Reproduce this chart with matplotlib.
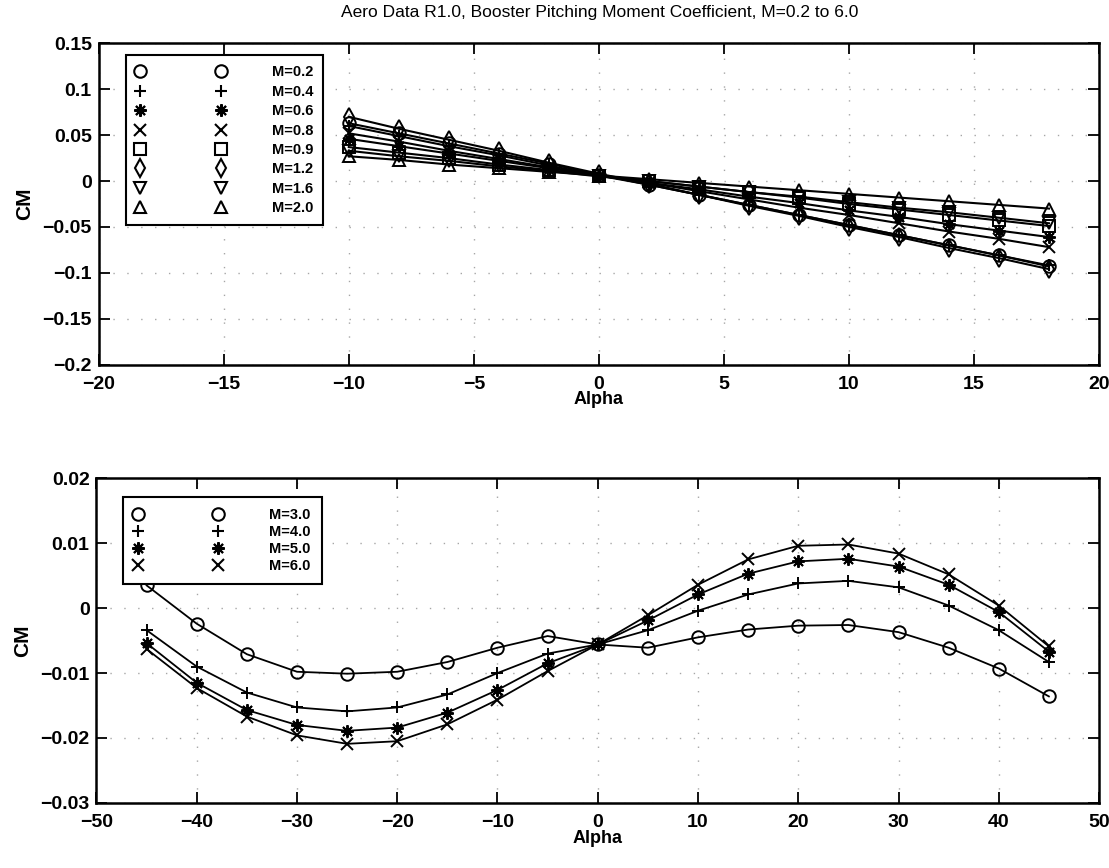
import numpy as np
import matplotlib.pyplot as plt
from matplotlib.lines import Line2D
from matplotlib.ticker import FuncFormatter

plt.rcParams['font.family'] = ['Liberation Sans', 'DejaVu Sans']

# Subsonic / low supersonic range, alpha in deg
alpha_low = [-10, -8, -6, -4, -2, 0, 2, 4, 6, 8, 10, 12, 14, 16, 18]
labels_low = ['M=0.2', 'M=0.4', 'M=0.6', 'M=0.8', 'M=0.9', 'M=1.2', 'M=1.6', 'M=2.0']
cm_m02 = [0.063, 0.052, 0.041, 0.030, 0.019, 0.007, -0.004, -0.015, -0.026, -0.037, -0.048, -0.059, -0.070, -0.081, -0.093]
cm_m04 = [0.060, 0.049, 0.038, 0.028, 0.017, 0.006, -0.004, -0.015, -0.026, -0.037, -0.048, -0.059, -0.070, -0.081, -0.092]
cm_m06 = [0.046, 0.038, 0.030, 0.022, 0.014, 0.006, -0.002, -0.009, -0.017, -0.024, -0.032, -0.039, -0.047, -0.054, -0.061]
cm_m08 = [0.052, 0.043, 0.033, 0.024, 0.015, 0.006, -0.002, -0.011, -0.020, -0.029, -0.037, -0.046, -0.055, -0.063, -0.072]
cm_m09 = [0.037, 0.031, 0.025, 0.018, 0.012, 0.006, 0.000, -0.006, -0.012, -0.018, -0.025, -0.031, -0.037, -0.043, -0.049]
cm_m12 = [0.070, 0.057, 0.045, 0.033, 0.020, 0.008, -0.003, -0.015, -0.027, -0.038, -0.050, -0.061, -0.073, -0.084, -0.096]
cm_m16 = [0.033, 0.027, 0.022, 0.016, 0.011, 0.005, 0.000, -0.006, -0.012, -0.017, -0.023, -0.029, -0.034, -0.040, -0.046]
cm_m20 = [0.027, 0.023, 0.018, 0.014, 0.010, 0.006, 0.002, -0.002, -0.006, -0.010, -0.014, -0.018, -0.022, -0.026, -0.030]

# High supersonic range
alpha_high = [-45, -40, -35, -30, -25, -20, -15, -10, -5, 0, 5, 10, 15, 20, 25, 30, 35, 40, 45]
labels_high = ['M=3.0', 'M=4.0', 'M=5.0', 'M=6.0']
cm_m30 = [0.0035, -0.0024, -0.0071, -0.0098, -0.0101, -0.0098, -0.0083, -0.0061, -0.0043, -0.0056,
          -0.0061, -0.0045, -0.0033, -0.0027, -0.0026, -0.0037, -0.0061, -0.0093, -0.0136]
cm_m40 = [-0.0034, -0.0090, -0.0130, -0.0153, -0.0159, -0.0153, -0.0133, -0.0100, -0.0070, -0.0056,
          -0.0034, -0.0004, 0.0021, 0.0038, 0.0042, 0.0032, 0.0004, -0.0034, -0.0083]
cm_m50 = [-0.0054, -0.0115, -0.0157, -0.0180, -0.0189, -0.0184, -0.0161, -0.0126, -0.0085, -0.0056,
          -0.0019, 0.0021, 0.0053, 0.0072, 0.0076, 0.0064, 0.0036, -0.0006, -0.0067]
cm_m60 = [-0.0063, -0.0123, -0.0167, -0.0196, -0.0209, -0.0205, -0.0179, -0.0141, -0.0097, -0.0056,
          -0.0011, 0.0036, 0.0075, 0.0096, 0.0098, 0.0084, 0.0052, 0.0004, -0.0059]

ASTERISK = (8, 2, 0)
markers_low = ['o', '+', ASTERISK, 'x', 's', 'd', 'v', '^']
markers_high = ['o', '+', ASTERISK, 'x']


def fmt_tick(v, pos):
    return ('%g' % v).replace('-', '\u2212')


def style_axes(ax):
    ax.tick_params(direction='in', length=8, width=1.3, top=True, right=True,
                   labelsize=14)
    ax.tick_params(axis='x', pad=8)
    ax.tick_params(axis='y', pad=5)
    for lab in ax.get_xticklabels() + ax.get_yticklabels():
        lab.set_fontweight('bold')
    for sp in ax.spines.values():
        sp.set_linewidth(1.8)
    ax.xaxis.set_major_formatter(FuncFormatter(fmt_tick))
    ax.yaxis.set_major_formatter(FuncFormatter(fmt_tick))
    ax.grid(True, color='k', linestyle=(0, (1, 9)), linewidth=1.0, alpha=0.35)


def add_legend(ax, markers, labels, anchor, spacing, pad):
    handles = [Line2D([], [], color='k', ls='none', marker=m, ms=9, mfc='none', mew=1.5)
               for m in markers]
    leg = ax.legend(handles, labels, numpoints=2, loc='upper left', bbox_to_anchor=anchor,
                    borderaxespad=0, handlelength=6.1, handletextpad=3.2,
                    labelspacing=spacing, borderpad=pad, fancybox=False,
                    edgecolor='k', framealpha=1, prop={'weight': 'bold', 'size': 10.5})
    leg.get_frame().set_linewidth(1.5)


fig = plt.figure(figsize=(11.09, 8.68), dpi=100)
ax1 = fig.add_axes([0.089, 0.580, 0.902, 0.370])
ax2 = fig.add_axes([0.087, 0.075, 0.904, 0.374])

series_low = [cm_m02, cm_m04, cm_m06, cm_m08, cm_m09, cm_m12, cm_m16, cm_m20]
for cm, m in zip(series_low, markers_low):
    ax1.plot(alpha_low, cm, color='k', lw=1.5, marker=m, ms=9, mfc='none', mew=1.4)

ax1.set_xlim(-20, 20)
ax1.set_ylim(-0.2, 0.15)
ax1.set_xticks([-20, -15, -10, -5, 0, 5, 10, 15, 20])
ax1.set_yticks([-0.2, -0.15, -0.1, -0.05, 0, 0.05, 0.1, 0.15])
style_axes(ax1)
ax1.set_xlabel('Alpha', fontsize=13, fontweight='bold', labelpad=-1)
ax1.set_ylabel('CM', fontsize=15, fontweight='bold', labelpad=6)
add_legend(ax1, markers_low, labels_low, (0.027, 0.963), 0.37, 0.7)

series_high = [cm_m30, cm_m40, cm_m50, cm_m60]
for cm, m in zip(series_high, markers_high):
    ax2.plot(alpha_high, cm, color='k', lw=1.3, marker=m, ms=9, mfc='none', mew=1.4)

ax2.set_xlim(-50, 50)
ax2.set_ylim(-0.03, 0.02)
ax2.set_xticks([-50, -40, -30, -20, -10, 0, 10, 20, 30, 40, 50])
ax2.set_yticks([-0.03, -0.02, -0.01, 0, 0.01, 0.02])
style_axes(ax2)
ax2.set_xlabel('Alpha', fontsize=13, fontweight='bold', labelpad=-1)
ax2.set_ylabel('CM', fontsize=15, fontweight='bold', labelpad=6)
add_legend(ax2, markers_high, labels_high, (0.026, 0.942), 0.21, 0.76)

fig.text(0.541, 1 - 13 / 868,
         'Aero Data R1.0, Booster Pitching Moment Coefficient, M=0.2 to 6.0',
         ha='center', va='center', fontsize=12.5)

fig.savefig('out.png', dpi=100)
plt.close(fig)
